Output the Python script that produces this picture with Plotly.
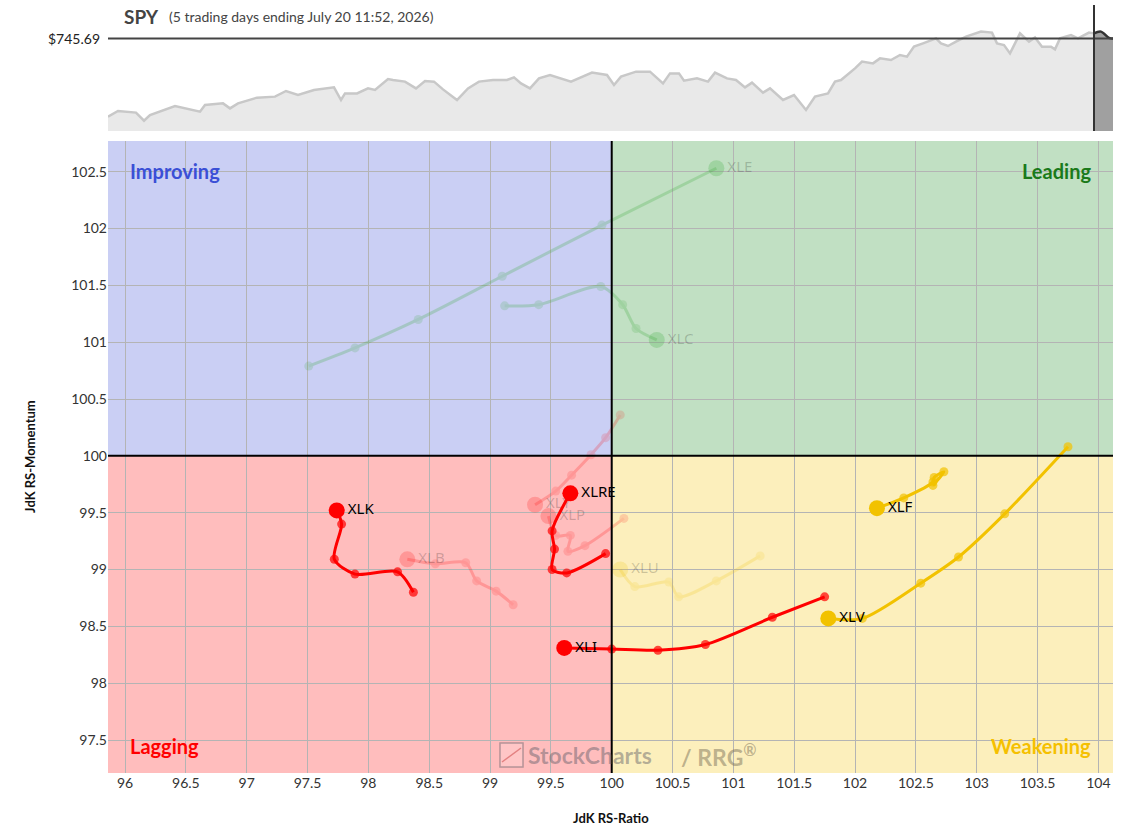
import plotly.graph_objects as go

# ---------------- data ----------------
# RRG tails: oldest -> newest (last point is the head)
xlk_ratio = [98.37, 98.24, 97.89, 97.72, 97.78, 97.74]
xlk_mom = [98.80, 98.98, 98.96, 99.09, 99.40, 99.52]

xlre_ratio = [99.95, 99.63, 99.51, 99.53, 99.51, 99.66]
xlre_mom = [99.14, 98.97, 99.00, 99.18, 99.34, 99.67]

xli_ratio = [101.75, 101.32, 100.77, 100.38, 100.00, 99.61]
xli_mom = [98.76, 98.58, 98.34, 98.29, 98.30, 98.31]

xlv_ratio = [103.75, 103.23, 102.85, 102.54, 102.06, 101.78]
xlv_mom = [100.08, 99.49, 99.11, 98.88, 98.57, 98.57]

xlf_ratio = [102.64, 102.73, 102.65, 102.64, 102.40, 102.18]
xlf_mom = [99.74, 99.86, 99.81, 99.77, 99.63, 99.54]

xle_ratio = [97.51, 97.89, 98.41, 99.10, 99.92, 100.86]
xle_mom = [100.79, 100.95, 101.20, 101.58, 102.03, 102.53]

xlc_ratio = [99.12, 99.40, 99.91, 100.09, 100.20, 100.37]
xlc_mom = [101.32, 101.33, 101.49, 101.33, 101.12, 101.02]

xly_ratio = [100.07, 99.95, 99.83, 99.67, 99.54, 99.37]
xly_mom = [100.36, 100.16, 100.01, 99.83, 99.69, 99.57]

xlp_ratio = [100.10, 99.78, 99.64, 99.66, 99.54, 99.48]
xlp_mom = [99.45, 99.21, 99.16, 99.30, 99.30, 99.47]

xlb_ratio = [99.19, 99.05, 98.89, 98.80, 98.55, 98.32]
xlb_mom = [98.69, 98.81, 98.90, 99.06, 99.05, 99.09]

xlu_ratio = [101.22, 100.86, 100.55, 100.47, 100.19, 100.07]
xlu_mom = [99.12, 98.90, 98.76, 98.89, 98.85, 99.00]

# SPY price history (top panel)
spy_day = [0, 10, 28, 36, 42, 56, 67, 92, 97, 115, 122, 130, 149, 167, 178, 190, 206, 226, 233, 237,
           249, 260, 267, 280, 285, 297, 308, 317, 326, 335, 349, 360, 371, 385, 399, 406, 413, 422, 431, 442,
           452, 463, 484, 499, 506, 513, 528, 542, 555, 562, 571, 576, 589, 600, 607, 619, 628, 637, 644, 655,
           662, 675, 686, 698, 707, 720, 727, 733, 747, 754, 765, 772, 783, 792, 799, 806, 815, 828, 833, 840,
           848, 858, 873, 884, 889, 896, 902, 912, 921, 927, 934, 943, 947, 952, 963, 970, 981, 986]
spy_price = [683.2, 687.7, 686.4, 679.9, 684.5, 688.5, 691.7, 687.2, 692.5, 693.8, 689.8, 693.8, 698.4, 699.2, 703.7, 700.5, 704.5, 706.6, 696.5, 701.8,
             701.8, 705.8, 704.5, 713.3, 712.5, 711.2, 705.8, 711.7, 711.2, 705.0, 696.5, 705.8, 711.2, 712.5, 712.5, 714.6, 709.8, 705.8, 713.8, 716.5,
             713.8, 711.2, 718.4, 716.5, 708.5, 715.2, 719.2, 719.2, 709.8, 717.8, 717.8, 712.0, 713.8, 711.2, 718.4, 713.8, 712.5, 706.6, 710.4, 702.4,
             705.8, 696.5, 700.5, 688.5, 699.2, 701.8, 711.2, 712.5, 721.8, 727.2, 725.8, 729.8, 728.5, 732.5, 731.2, 739.2, 741.8, 745.8, 741.8, 739.7,
             743.2, 747.2, 751.2, 750.4, 741.8, 740.5, 733.8, 749.8, 743.2, 746.6, 739.2, 739.2, 737.0, 745.8, 748.5, 745.8, 750.4, 749.8]
recent_day = [986, 993, 1001, 1005]
recent_price = [749.8, 751.2, 746.2, 745.69]
last_price = 745.69

# ---------------- styling ----------------
RED = "#ff0000"
YEL = "#f2c200"
GRN = "rgb(60,170,60)"

fig = go.Figure()

# quadrant backgrounds
quads = [
    (95.0, 100, 100, 104.5, "#cacff4"),
    (100, 105.0, 100, 104.5, "#c1e0c3"),
    (95.0, 100, 96.0, 100, "#ffbdbd"),
    (100, 105.0, 96.0, 100, "#fcefbc"),
]
for x0, x1, y0, y1, c in quads:
    fig.add_shape(type="rect", x0=x0, x1=x1, y0=y0, y1=y1, xref="x", yref="y",
                  fillcolor=c, line_width=0, layer="below")


def add_tail(name, xs, ys, color, faded):
    op = 1.0
    if faded:
        op = 0.2 if color in (RED, YEL) else 0.25
    n = len(xs)
    fig.add_trace(go.Scatter(x=xs, y=ys, mode="lines+markers",
                             line=dict(color=color, width=3, shape="spline", smoothing=0.8),
                             marker=dict(color=color, size=[9] * (n - 1) + [0], line_width=0),
                             opacity=op, hoverinfo="skip", showlegend=False, xaxis="x", yaxis="y"))
    fig.add_trace(go.Scatter(x=[xs[-1]], y=[ys[-1]], mode="markers+text", text=[name],
                             textposition="middle right",
                             textfont=dict(family="Noto Sans", size=15,
                                           color="rgba(0,0,0,0.2)" if faded else "#000"),
                             marker=dict(color=color, size=16, line_width=0, opacity=op),
                             hoverinfo="skip", showlegend=False, xaxis="x", yaxis="y"))


# faded (inactive) tails first
add_tail("XLE", xle_ratio, xle_mom, GRN, True)
add_tail("XLC", xlc_ratio, xlc_mom, GRN, True)
add_tail("XLY", xly_ratio, xly_mom, RED, True)
add_tail("XLP", xlp_ratio, xlp_mom, RED, True)
add_tail("XLB", xlb_ratio, xlb_mom, RED, True)
add_tail("XLU", xlu_ratio, xlu_mom, YEL, True)
# active tails
add_tail("XLK", xlk_ratio, xlk_mom, RED, False)
add_tail("XLRE", xlre_ratio, xlre_mom, RED, False)
add_tail("XLI", xli_ratio, xli_mom, RED, False)
add_tail("XLV", xlv_ratio, xlv_mom, YEL, False)
add_tail("XLF", xlf_ratio, xlf_mom, YEL, False)

# center lines
fig.add_shape(type="line", x0=100, x1=100, y0=0, y1=1, xref="x", yref="y domain",
              line=dict(color="#000", width=2))
fig.add_shape(type="line", x0=0, x1=1, y0=100, y1=100, xref="x domain", yref="y",
              line=dict(color="#000", width=2))

# SPY panel
fig.add_trace(go.Scatter(x=spy_day, y=spy_price, mode="lines", fill="tozeroy",
                         fillcolor="#e9e9e9", line=dict(color="#c8c8c8", width=2.5),
                         hoverinfo="skip", showlegend=False, xaxis="x2", yaxis="y2"))
fig.add_trace(go.Scatter(x=recent_day, y=recent_price, mode="lines", fill="tozeroy",
                         fillcolor="#a0a0a0", line=dict(color="#333", width=2.5, shape="spline"),
                         hoverinfo="skip", showlegend=False, xaxis="x2", yaxis="y2"))
fig.add_shape(type="line", x0=0, x1=1, y0=last_price, y1=last_price, xref="x2 domain", yref="y2",
              line=dict(color="#444", width=2))
fig.add_shape(type="line", x0=recent_day[0], x1=recent_day[0], y0=0, y1=1, xref="x2", yref="y2 domain",
              line=dict(color="#333", width=2))

ann = []
ann.append(dict(text="$745.69", xref="paper", x=0, xanchor="right", xshift=-6,
                yref="y2", y=last_price, yanchor="middle", showarrow=False,
                font=dict(family="Lato", size=14, color="#222")))
ann.append(dict(text="<b>SPY</b>", xref="paper", x=0, xanchor="left", xshift=14,
                yref="paper", y=1, yanchor="middle", yshift=-16, showarrow=False,
                font=dict(family="Lato", size=19, color="#444")))
ann.append(dict(text="(5 trading days ending July 20 11:52, 2026)", xref="paper", x=0, xanchor="left", xshift=59,
                yref="paper", y=1, yanchor="middle", yshift=-16, showarrow=False,
                font=dict(family="Lato", size=14, color="#444")))

# quadrant labels
ann.append(dict(text="<b>Improving</b>", xref="x domain", x=0, xanchor="left", xshift=20,
                yref="y domain", y=1, yanchor="middle", yshift=-30, showarrow=False,
                font=dict(family="Lato", size=20, color="#3a4fd6")))
ann.append(dict(text="<b>Leading</b>", xref="x domain", x=1, xanchor="right", xshift=-20,
                yref="y domain", y=1, yanchor="middle", yshift=-30, showarrow=False,
                font=dict(family="Lato", size=20, color="#1a7a1a")))
ann.append(dict(text="<b>Lagging</b>", xref="x domain", x=0, xanchor="left", xshift=20,
                yref="y domain", y=0, yanchor="middle", yshift=27, showarrow=False,
                font=dict(family="Lato", size=20, color="#ff0000")))
ann.append(dict(text="<b>Weakening</b>", xref="x domain", x=1, xanchor="right", xshift=-20,
                yref="y domain", y=0, yanchor="middle", yshift=27, showarrow=False,
                font=dict(family="Lato", size=20, color="#f5c000")))

# watermark
ann.append(dict(text="<b>StockCharts</b>", xref="paper", x=(526 - 108) / 1005, xanchor="left",
                yref="y domain", y=0, yanchor="middle", yshift=18, showarrow=False,
                font=dict(family="Lato", size=23, color="rgba(90,90,100,0.45)")))
ann.append(dict(text="<b>/ RRG<sup>®</sup></b>", xref="paper", x=(679 - 108) / 1005, xanchor="left",
                yref="y domain", y=0, yanchor="middle", yshift=18, showarrow=False,
                font=dict(family="Lato", size=23, color="rgba(110,100,80,0.45)")))

# axis titles
ann.append(dict(text="<b>JdK RS-Ratio</b>", xref="x domain", x=0.5, xanchor="center",
                yref="y domain", y=0, yanchor="middle", yshift=-45, showarrow=False,
                font=dict(family="Lato", size=13, color="#111")))
ann.append(dict(text="<b>JdK RS-Momentum</b>", xref="paper", x=0, xanchor="center", xshift=-78,
                yref="y domain", y=0.5, yanchor="middle", textangle=-90, showarrow=False,
                font=dict(family="Lato", size=13, color="#111")))

# small watermark icon
fig.add_shape(type="rect", xref="paper", yref="y domain",
              x0=(500 - 108) / 1005, x1=(523 - 108) / 1005, y0=(773 - 767) / 632, y1=(773 - 743) / 632,
              line=dict(color="rgba(90,90,100,0.45)", width=1.5), fillcolor="rgba(255,255,255,0.15)")
fig.add_shape(type="line", xref="paper", yref="y domain",
              x0=(502 - 108) / 1005, x1=(521 - 108) / 1005, y0=(773 - 762) / 632, y1=(773 - 748) / 632,
              line=dict(color="rgba(200,60,60,0.5)", width=1.5))

H = 833
B = 60
PH = H - B
fig.update_layout(
    width=1124, height=833,
    margin=dict(l=108, r=11, t=0, b=B),
    paper_bgcolor="white", plot_bgcolor="white",
    annotations=ann,
    xaxis=dict(domain=[0, 1], range=[95.86, 104.12], tick0=96, dtick=0.5,
               showgrid=True, gridcolor="#b4b4b4", gridwidth=1, zeroline=False,
               showline=False, ticks="", tickfont=dict(family="Lato", size=14, color="#333"),
               anchor="y"),
    yaxis=dict(domain=[0, (H - 141 - B) / PH], range=[97.21, 102.77], tick0=97.5, dtick=0.5,
               showgrid=True, gridcolor="#b4b4b4", gridwidth=1, zeroline=False,
               showline=False, ticks="", tickfont=dict(family="Lato", size=14, color="#333"),
               anchor="x"),
    xaxis2=dict(domain=[0, 1], range=[0, 1005], showgrid=False, zeroline=False,
                showticklabels=False, ticks="", anchor="y2"),
    yaxis2=dict(domain=[(H - 131 - B) / PH, (H - 5 - B) / PH], range=[671.7, 772.5], showgrid=False,
                zeroline=False, showticklabels=False, ticks="", anchor="x2"),
)

fig.write_html("out.html")
